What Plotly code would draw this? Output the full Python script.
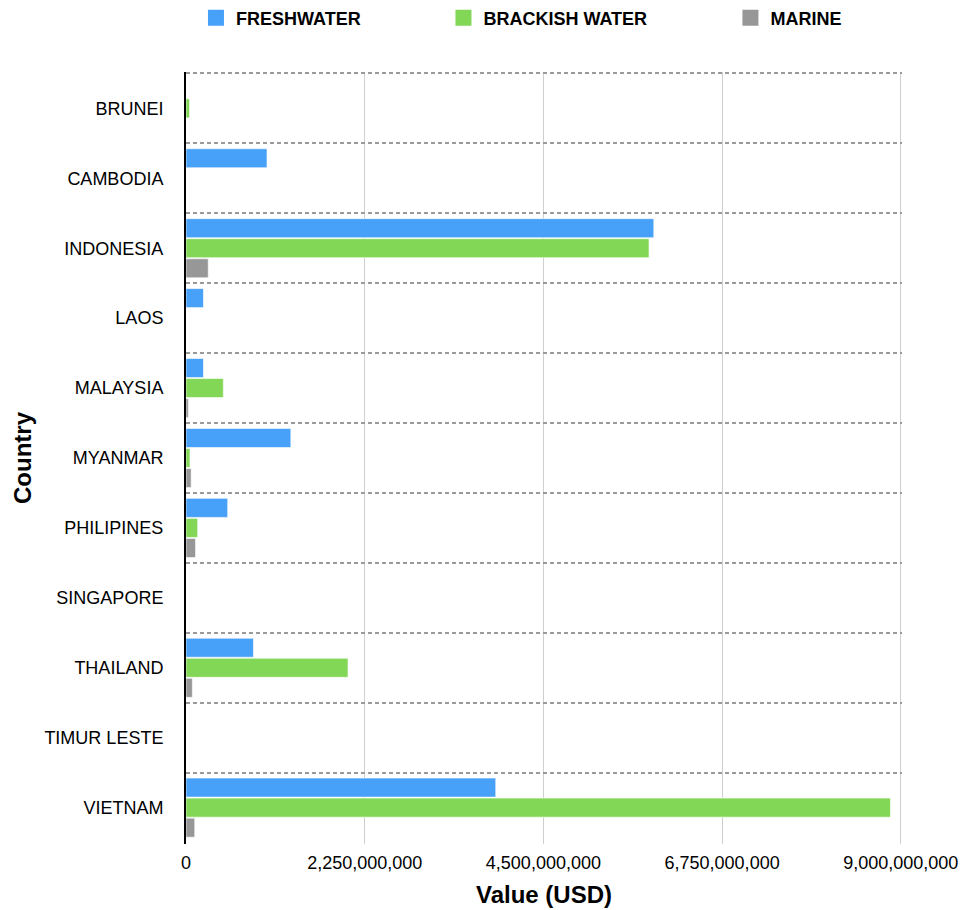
import plotly.graph_objects as go

countries = ["BRUNEI", "CAMBODIA", "INDONESIA", "LAOS", "MALAYSIA", "MYANMAR",
             "PHILIPINES", "SINGAPORE", "THAILAND", "TIMUR LESTE", "VIETNAM"]

freshwater = [0, 1.02e9, 5.89e9, 0.22e9, 0.22e9, 1.32e9,
              0.525e9, 0, 0.85e9, 0, 3.90e9]
brackish = [0.045e9, 0, 5.83e9, 0, 0.47e9, 0.05e9,
            0.147e9, 0, 2.04e9, 0, 8.87e9]
marine = [0, 0, 0.28e9, 0, 0.03e9, 0.065e9,
          0.12e9, 0, 0.08e9, 0, 0.11e9]

x_ticks = [0, 2.25e9, 4.5e9, 6.75e9, 9e9]

series = [
    ("FRESHWATER", freshwater, "#48a1f8", "legend", 0.2035),
    ("BRACKISH WATER", brackish, "#83d756", "legend2", 0.4605),
    ("MARINE", marine, "#979797", "legend3", 0.7585),
]

FONT = "Arial, Liberation Sans, Helvetica, sans-serif"

fig = go.Figure()
for name, vals, color, leg, _ in series:
    fig.add_trace(go.Bar(
        y=countries, x=vals, name=name, orientation="h",
        marker=dict(color=color, line=dict(color="rgba(255,255,255,0.6)", width=1)),
        showlegend=False,
    ))
    # legend swatch: larger square than the default bar swatch
    fig.add_trace(go.Scatter(
        x=[None], y=[None], mode="markers", name=name,
        marker=dict(symbol="square", size=16, color=color),
        legend=leg, hoverinfo="skip",
    ))

legend_style = dict(
    orientation="h", yref="container", y=1 - 18 / 910, yanchor="middle",
    xref="container", xanchor="left",
    font=dict(family=FONT, size=18, color="#000000", weight="bold"),
    bgcolor="rgba(0,0,0,0)", borderwidth=0, itemclick=False,
)
legends = {}
for name, _, _, leg, xpos in series:
    legends[leg] = dict(legend_style, x=xpos)

fig.update_layout(
    width=963, height=910,
    margin=dict(l=186, r=61, t=72, b=66, autoexpand=False),
    paper_bgcolor="white", plot_bgcolor="white",
    barmode="group", bargap=0.14, bargroupgap=0.05,
    font=dict(family=FONT, size=17, color="#000000"),
    showlegend=True,
    **legends,
    xaxis=dict(
        range=[0, 9.015e9], tickvals=x_ticks, tickformat=",d",
        showgrid=True, gridcolor="#cfcfcf", gridwidth=1,
        zeroline=False, showline=False, automargin=False,
        tickfont=dict(size=18), ticklabelstandoff=6,
        title=dict(text="Value (USD)", font=dict(size=24, weight="bold"), standoff=14),
    ),
    yaxis=dict(
        range=[10.52, -0.52], type="category",
        tickson="boundaries", showgrid=True, gridcolor="#9a9a9a", gridwidth=1.5,
        griddash="4px,3px", automargin=False,
        showline=True, linecolor="#000000", linewidth=2,
        ticks="", ticklabelstandoff=17,
        tickfont=dict(size=18),
        title=dict(text="Country", font=dict(size=24, weight="bold"), standoff=6),
    ),
)

fig.write_html("out.html")
